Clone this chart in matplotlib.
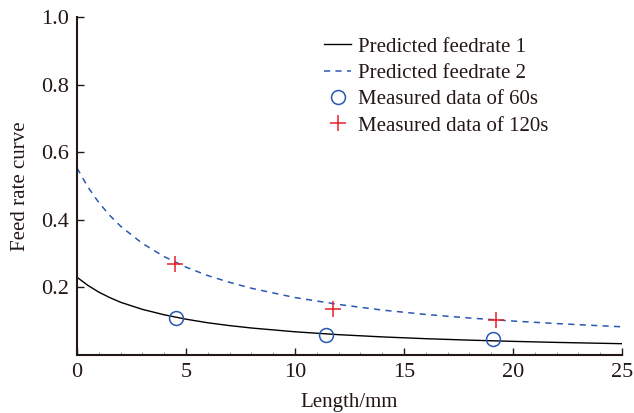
import matplotlib
matplotlib.use("Agg")
import matplotlib.pyplot as plt
from matplotlib.ticker import MultipleLocator

plt.rcParams['font.family'] = ['Liberation Serif', 'DejaVu Serif']
plt.rcParams['mathtext.fontset'] = 'stix'

# Curve samples
curve_x = [0, 0.5, 1, 1.5, 2, 3, 4, 5, 6, 7, 8, 10, 12, 14, 16, 18, 20, 22, 25]
pred1 = [0.230, 0.206, 0.186, 0.170, 0.156, 0.135, 0.119, 0.106, 0.0954, 0.087,
         0.0799, 0.0687, 0.0602, 0.0536, 0.0483, 0.044, 0.0404, 0.0373, 0.0335]
pred2 = [0.553, 0.497, 0.451, 0.413, 0.381, 0.330, 0.291, 0.260, 0.235, 0.215,
         0.1975, 0.170, 0.1495, 0.133, 0.120, 0.1095, 0.1005, 0.093, 0.0835]

# Measured data
m60_x = [4.55, 11.4, 19.1]
m60_y = [0.110, 0.059, 0.047]
m120_x = [4.5, 11.75, 19.2]
m120_y = [0.270, 0.135, 0.104]

xticks = [0, 5, 10, 15, 20, 25]
yticks = [0.2, 0.4, 0.6, 0.8, 1.0]

fig = plt.figure(figsize=(6.34, 4.13), dpi=100)
ax = fig.add_axes([0.1215, 0.1404, 0.8595, 0.8184])

ax.plot(curve_x, pred1, color='black', lw=1.0, label='Predicted feedrate 1')
ax.plot(curve_x, pred2, color='#2a58b0', lw=1.1, ls=(0, (4, 3.5)), label='Predicted feedrate 2')
ax.plot(m60_x, m60_y, ls='none', marker='o', ms=10, mfc='none', mec='#2a58b0', mew=1.1,
        label='Measured data of 60s')
ax.plot(m120_x, m120_y, ls='none', marker='+', ms=11, mec='#e8202a', mew=1.1,
        label='Measured data of 120s')

ax.set_xlim(0, 25)
ax.set_ylim(0, 1.0)
ax.set_xticks(xticks)
ax.set_xticklabels([str(t) for t in xticks], fontfamily='Liberation Serif', fontsize=16)
ax.set_yticks(yticks)
ax.set_yticklabels([f'{t:.1f}' for t in yticks], fontfamily='Liberation Serif', fontsize=16)
ax.xaxis.set_minor_locator(MultipleLocator(1))

for s in ['top', 'right']:
    ax.spines[s].set_visible(False)
for s in ['left', 'bottom']:
    ax.spines[s].set_linewidth(1.5)
    ax.spines[s].set_color('#231815')

ax.tick_params(axis='both', which='major', direction='in', length=5, width=1.0,
               colors='#231815', pad=6)
ax.tick_params(axis='x', which='minor', direction='in', length=2, width=0.6, colors='#888888')

ax.set_xlabel('Length/mm', fontsize=15, color='#231815', labelpad=8)
ax.set_ylabel('Feed rate curve', fontsize=15, color='#231815', labelpad=8)

leg = ax.legend(loc='upper left', bbox_to_anchor=(0.438, 0.965), frameon=False, fontsize=15,
                handlelength=1.3, handletextpad=0.35, labelspacing=0.32, borderaxespad=0)
for t in leg.get_texts():
    t.set_color('#231815')

fig.savefig('out.png', dpi=100)
